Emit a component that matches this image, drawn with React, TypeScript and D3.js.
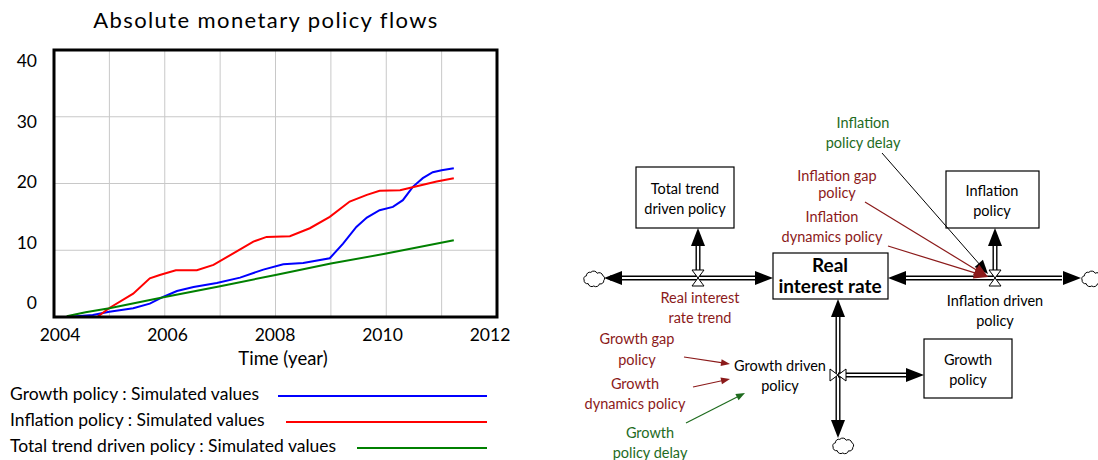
import React from "react";
import * as d3 from "d3";

const yTicks = [0, 10, 20, 30, 40];
const xTicks = [2004, 2006, 2008, 2010, 2012];
const xGrid = [2005, 2006, 2007, 2008, 2009, 2010, 2011];

const growthT = [2004.23, 2004.7, 2005.0, 2005.43, 2005.73, 2005.97, 2006.22, 2006.52, 2006.94, 2007.36, 2007.78, 2008.14, 2008.5, 2008.98, 2009.22, 2009.46, 2009.65, 2009.88, 2010.12, 2010.3, 2010.48, 2010.66, 2010.84, 2011.0, 2011.22];
const growthV = [0, 0.3, 0.8, 1.3, 2.0, 3.0, 3.9, 4.5, 5.1, 5.9, 7.1, 7.9, 8.1, 8.8, 11.0, 13.5, 14.9, 16.0, 16.5, 17.5, 19.5, 20.8, 21.7, 22.0, 22.3];

const inflationT = [2004.23, 2004.78, 2005.0, 2005.43, 2005.73, 2005.91, 2006.2, 2006.58, 2006.88, 2007.23, 2007.6, 2007.84, 2008.26, 2008.62, 2008.98, 2009.34, 2009.65, 2009.88, 2010.25, 2010.55, 2010.91, 2011.22];
const inflationV = [0, 0, 1.35, 3.5, 5.8, 6.3, 7.0, 7.0, 7.8, 9.5, 11.3, 12.0, 12.1, 13.3, 15.0, 17.3, 18.3, 18.9, 19.0, 19.6, 20.3, 20.8];

const trendT = [2004.23, 2004.57, 2005.0, 2006.0, 2007.0, 2008.0, 2009.0, 2010.0, 2011.22];
const trendV = [0.1, 0.7, 1.3, 3.0, 4.6, 6.3, 8.0, 9.5, 11.5];

const seriesNames = [
  "Growth policy : Simulated values",
  "Inflation policy : Simulated values",
  "Total trend driven policy : Simulated values",
];
const seriesColors = ["#0000ff", "#ff0000", "#008000"];

const FONT = "Lato, 'Open Sans', sans-serif";
const DRED = "#8b1a1a";
const DGREEN = "#1e6b1e";

const x = d3.scaleLinear().domain([2004, 2012]).range([54, 497]);
const y = d3.scaleLinear().domain([0, 40]).range([317, 50]);
const xLab = d3.scaleLinear().domain([2004, 2012]).range([60, 490]);
const yLab = d3.scaleLinear().domain([0, 40]).range([305, 63]);

function zip(t: number[], v: number[]) {
  return t.map((tt, i) => [tt, v[i]] as [number, number]);
}

const lineGen = d3
  .line<[number, number]>()
  .x((d) => x(d[0]))
  .y((d) => y(d[1]));

function Cloud({ cx, cy }: { cx: number; cy: number }) {
  const rx = 10, ry = 7;
  const n = 9;
  const pts: [number, number][] = [];
  for (let i = 0; i < n; i++) {
    const a = (i / n) * Math.PI * 2 + 0.2;
    const jitter = i % 2 === 0 ? 1 : 0.88;
    pts.push([cx + Math.cos(a) * rx * jitter, cy + Math.sin(a) * ry * jitter]);
  }
  let d = `M${pts[0][0]},${pts[0][1]}`;
  for (let i = 1; i <= n; i++) {
    const p = pts[i % n];
    const prev = pts[i - 1];
    const r = Math.hypot(p[0] - prev[0], p[1] - prev[1]) * 0.6;
    d += ` A${r},${r} 0 0 1 ${p[0]},${p[1]}`;
  }
  d += " Z";
  return <path d={d} fill="white" stroke="black" strokeWidth={1} />;
}

function Pipe({ x1, y1, x2, y2 }: { x1: number; y1: number; x2: number; y2: number }) {
  return (
    <g>
      <line x1={x1} y1={y1} x2={x2} y2={y2} stroke="black" strokeWidth={5} />
      <line x1={x1} y1={y1} x2={x2} y2={y2} stroke="white" strokeWidth={2.2} />
    </g>
  );
}

function Head({ tx, ty, angle, len = 18, w = 14, fill = "black" }: { tx: number; ty: number; angle: number; len?: number; w?: number; fill?: string }) {
  const c = Math.cos(angle), s = Math.sin(angle);
  const bx = tx - c * len, by = ty - s * len;
  const px = -s * (w / 2), py = c * (w / 2);
  return <polygon points={`${tx},${ty} ${bx + px},${by + py} ${bx - px},${by - py}`} fill={fill} />;
}

function ValveH({ cx, cy }: { cx: number; cy: number }) {
  return (
    <g fill="white" stroke="black" strokeWidth={1}>
      <polygon points={`${cx - 6},${cy - 8} ${cx + 6},${cy - 8} ${cx},${cy}`} />
      <polygon points={`${cx - 6},${cy + 8} ${cx + 6},${cy + 8} ${cx},${cy}`} />
    </g>
  );
}
function ValveV({ cx, cy }: { cx: number; cy: number }) {
  return (
    <g fill="white" stroke="black" strokeWidth={1}>
      <polygon points={`${cx - 8},${cy - 6} ${cx - 8},${cy + 6} ${cx},${cy}`} />
      <polygon points={`${cx + 8},${cy - 6} ${cx + 8},${cy + 6} ${cx},${cy}`} />
    </g>
  );
}

function Label({ cx, y0, lines, color = "black", size = 14.5, weight = 400, gap = 20 }: { cx: number; y0: number; lines: string[]; color?: string; size?: number; weight?: number; gap?: number }) {
  return (
    <g fill={color} fontSize={size} fontWeight={weight} fontFamily={FONT} textAnchor="middle">
      {lines.map((l, i) => (
        <text key={i} x={cx} y={y0 + i * gap} dominantBaseline="middle">
          {l}
        </text>
      ))}
    </g>
  );
}

function Arrow({ x1, y1, x2, y2, color, head = 9, w = 7, sw = 1.2 }: { x1: number; y1: number; x2: number; y2: number; color: string; head?: number; w?: number; sw?: number }) {
  const a = Math.atan2(y2 - y1, x2 - x1);
  return (
    <g>
      <line x1={x1} y1={y1} x2={x2 - Math.cos(a) * head * 0.8} y2={y2 - Math.sin(a) * head * 0.8} stroke={color} strokeWidth={sw} />
      <Head tx={x2} ty={y2} angle={a} len={head} w={w} fill={color} />
    </g>
  );
}

export default function App() {
  const series = [zip(growthT, growthV), zip(inflationT, inflationV), zip(trendT, trendV)];
  const legendLineStart = [278, 286, 357];
  return (
    <svg width={1098} height={460} style={{ position: "absolute", left: 0, top: 0, background: "white" }}>
      <rect width={1098} height={460} fill="white" />
      <text x={266} y={22} textAnchor="middle" dominantBaseline="middle" fontFamily={FONT} fontSize={22} letterSpacing={1.4}>
        Absolute monetary policy flows
      </text>
      <g stroke="#c8c8c8" strokeWidth={1}>
        {yTicks.slice(1, 4).map((t) => (
          <line key={t} x1={x(2004)} x2={x(2012)} y1={y(t)} y2={y(t)} />
        ))}
        {xGrid.map((t) => (
          <line key={t} x1={x(t)} x2={x(t)} y1={y(40)} y2={y(0)} />
        ))}
      </g>
      {series.map((s, i) => (
        <path key={i} d={lineGen(s) || ""} fill="none" stroke={seriesColors[i]} strokeWidth={2} />
      ))}
      <rect x={x(2004)} y={y(40)} width={x(2012) - x(2004)} height={y(0) - y(40)} fill="none" stroke="black" strokeWidth={3} />
      <g fontFamily={FONT} fontSize={17.5} textAnchor="end">
        {yTicks.map((t) => (
          <text key={t} x={37} y={yLab(t)} dominantBaseline="middle">
            {t}
          </text>
        ))}
      </g>
      <g fontFamily={FONT} fontSize={17.5} textAnchor="middle">
        {xTicks.map((t) => (
          <text key={t} x={xLab(t)} y={337} dominantBaseline="middle">
            {t}
          </text>
        ))}
      </g>
      <text x={283} y={360} textAnchor="middle" dominantBaseline="middle" fontFamily={FONT} fontSize={18.5}>
        Time (year)
      </text>
      {seriesNames.map((n, i) => (
        <g key={n}>
          <text x={10} y={396 + i * 26} dominantBaseline="middle" fontFamily={FONT} fontSize={17.5}>
            {n}
          </text>
          <line x1={legendLineStart[i]} x2={487} y1={396 + i * 26} y2={396 + i * 26} stroke={seriesColors[i]} strokeWidth={2} />
        </g>
      ))}

      {/* left pipe */}
      <Pipe x1={610} y1={278} x2={758} y2={278} />
      <Head tx={604} ty={278} angle={Math.PI} />
      <Head tx={773} ty={278} angle={0} />
      <Cloud cx={594} cy={279} />
      <Pipe x1={698} y1={276} x2={698} y2={245} />
      <Head tx={698} ty={228} angle={-Math.PI / 2} />
      <ValveH cx={698} cy={278} />

      {/* right pipe */}
      <Pipe x1={903} y1={278} x2={1062} y2={278} />
      <Head tx={888} ty={278} angle={Math.PI} />
      <Head tx={1081} ty={278} angle={0} />
      <Cloud cx={1092} cy={279} />
      <Pipe x1={995} y1={276} x2={995} y2={245} />
      <Head tx={995} ty={228} angle={-Math.PI / 2} />
      <ValveH cx={995} cy={278} />

      {/* vertical pipe */}
      <Pipe x1={838} y1={315} x2={838} y2={420} />
      <Head tx={838} ty={299} angle={-Math.PI / 2} />
      <Head tx={838} ty={438} angle={Math.PI / 2} />
      <Cloud cx={843} cy={446} />
      <Pipe x1={838} y1={375} x2={908} y2={375} />
      <Head tx={924} ty={375} angle={0} />
      <ValveV cx={838} cy={375} />

      {/* boxes */}
      <rect x={636} y={167} width={98} height={61} fill="white" stroke="black" strokeWidth={1.2} />
      <Label cx={685} y0={190} lines={["Total trend", "driven policy"]} />
      <rect x={946} y={171} width={93} height={57} fill="white" stroke="black" strokeWidth={1.2} />
      <Label cx={992} y0={192} lines={["Inflation", "policy"]} />
      <rect x={773} y={253} width={115} height={46} fill="white" stroke="black" strokeWidth={1.2} />
      <Label cx={830} y0={267} lines={["Real", "interest rate"]} size={19} weight={700} gap={21} />
      <rect x={924} y={339} width={88} height={59} fill="white" stroke="black" strokeWidth={1.2} />
      <Label cx={968} y0={361} lines={["Growth", "policy"]} />

      {/* labels */}
      <Label cx={863} y0={124} lines={["Inflation", "policy delay"]} color={DGREEN} />
      <Label cx={837} y0={177} lines={["Inflation gap", "policy"]} color={DRED} gap={17} />
      <Label cx={832} y0={218} lines={["Inflation", "dynamics policy"]} color={DRED} />
      <Label cx={700} y0={299} lines={["Real interest", "rate trend"]} color={DRED} />
      <Label cx={995} y0={302} lines={["Inflation driven", "policy"]} />
      <Label cx={780} y0={367} lines={["Growth driven", "policy"]} />
      <Label cx={637} y0={340} lines={["Growth gap", "policy"]} color={DRED} gap={21} />
      <Label cx={635} y0={385} lines={["Growth", "dynamics policy"]} color={DRED} />
      <Label cx={650} y0={434} lines={["Growth", "policy delay"]} color={DGREEN} />

      {/* influence arrows */}
      <Arrow x1={882} y1={153} x2={988} y2={274} color="black" sw={1} head={14} w={11} />
      <Arrow x1={865} y1={202} x2={988} y2={277} color={DRED} head={14} w={12} />
      <Arrow x1={888} y1={246} x2={988} y2={277} color={DRED} head={14} w={12} />
      <Arrow x1={684} y1={357} x2={730} y2={364} color={DRED} />
      <Arrow x1={693} y1={387} x2={730} y2={379} color={DRED} />
      <Arrow x1={686} y1={423} x2={745} y2={393} color={DGREEN} />
    </svg>
  );
}
